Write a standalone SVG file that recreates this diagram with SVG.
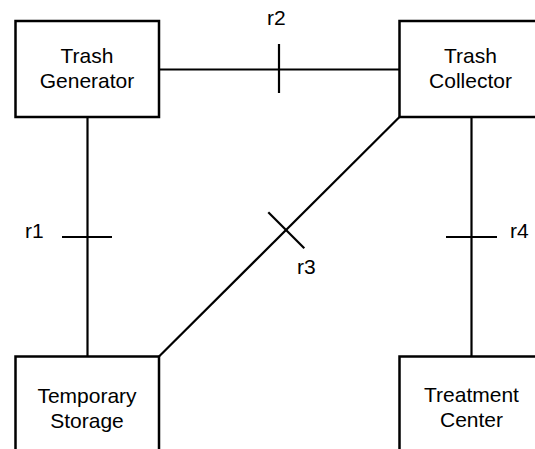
<svg xmlns="http://www.w3.org/2000/svg" width="535" height="449" viewBox="0 0 535 449">
  <style>
    .box { fill: #ffffff; stroke: #000000; stroke-width: 2.5; }
    .wire { stroke: #000000; stroke-width: 2.2; fill: none; }
    .tick { stroke: #000000; stroke-width: 2.2; }
    .label { font-family: "Liberation Sans", Arial, sans-serif; font-size: 21px; fill: #000000; }
    .name { text-anchor: middle; }
  </style>
  <rect width="535" height="449" fill="#ffffff"/>

  <!-- relationships between the nodes -->
  <g id="connectors">
    <g id="r1">
      <line class="wire" x1="87.5" y1="117" x2="87.5" y2="356.5"/>
      <line class="tick" x1="62" y1="237" x2="112" y2="237"/>
      <text class="label" x="25" y="238">r1</text>
    </g>
    <g id="r2">
      <line class="wire" x1="159" y1="69.5" x2="399.5" y2="69.5"/>
      <line class="tick" x1="279" y1="44" x2="279" y2="93"/>
      <text class="label" x="267" y="25">r2</text>
    </g>
    <g id="r3">
      <line class="wire" x1="399.5" y1="117" x2="159" y2="356.5"/>
      <line class="tick" x1="268.3" y1="212.3" x2="304.3" y2="248.3"/>
      <text class="label" x="297" y="274">r3</text>
    </g>
    <g id="r4">
      <line class="wire" x1="471.5" y1="117" x2="471.5" y2="356.5"/>
      <line class="tick" x1="446" y1="237" x2="497" y2="237"/>
      <text class="label" x="510" y="238">r4</text>
    </g>
  </g>

  <g id="trash-generator">
    <rect class="box" x="15.5" y="21" width="143.5" height="96"/>
    <text class="label name" x="87" y="63">Trash</text>
    <text class="label name" x="87" y="88">Generator</text>
  </g>

  <g id="trash-collector">
    <rect class="box" x="399.5" y="21" width="144" height="96"/>
    <text class="label name" x="470.5" y="62.5">Trash</text>
    <text class="label name" x="470.5" y="87.5">Collector</text>
  </g>

  <g id="temporary-storage">
    <rect class="box" x="15.5" y="356.5" width="143.5" height="96"/>
    <text class="label name" x="87" y="403">Temporary</text>
    <text class="label name" x="87" y="428">Storage</text>
  </g>

  <g id="treatment-center">
    <rect class="box" x="399.5" y="356.5" width="144" height="96"/>
    <text class="label name" x="471.5" y="402">Treatment</text>
    <text class="label name" x="471.5" y="427">Center</text>
  </g>
</svg>
